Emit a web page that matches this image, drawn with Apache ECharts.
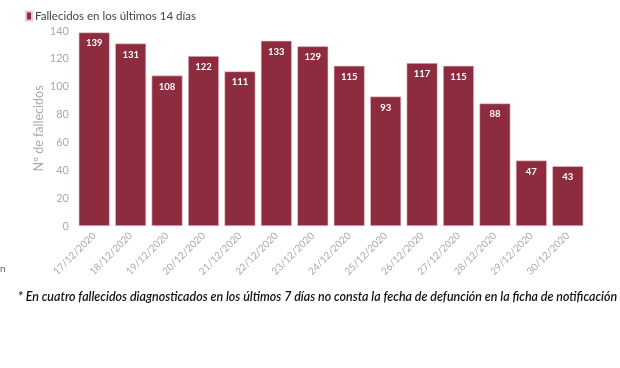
<!DOCTYPE html>
<html>
<head>
<meta charset="utf-8">
<script src="https://cdn.jsdelivr.net/npm/echarts@6/dist/echarts.min.js"></script>
<style>html,body{margin:0;padding:0;background:#fff}#c{width:620px;height:368px}</style>
</head>
<body>
<div id="c"></div>
<script>
const categories = ["17/12/2020","18/12/2020","19/12/2020","20/12/2020","21/12/2020","22/12/2020","23/12/2020","24/12/2020","25/12/2020","26/12/2020","27/12/2020","28/12/2020","29/12/2020","30/12/2020"];
const fallecidos = [139,131,108,122,111,133,129,115,93,117,115,88,47,43];
const yTicks = [0,20,40,60,80,100,120,140];
const seriesName = "Fallecidos en los últimos 14 días";
const yAxisName = "Nº de fallecidos";
const footnote = "* En cuatro fallecidos diagnosticados en los últimos 7 días no consta la fecha de defunción en la ficha de notificación";

const chart = echarts.init(document.getElementById('c'), null, {renderer:'canvas'});
chart.setOption({
  animation:false,
  textStyle:{fontFamily:'Lato'},
  legend:{
    left:20, top:5, itemWidth:6, itemHeight:9, itemGap:3,
    icon:'rect',
    textStyle:{color:'#444', fontSize:11.5, fontFamily:'Lato', padding:[0,0,0,-2]},
    data:[seriesName]
  },
  grid:{left:76, right:34, top:31, bottom:142, containLabel:false},
  xAxis:{
    type:'category', data:categories,
    axisLine:{show:false}, axisTick:{show:false},
    axisLabel:{rotate:45, color:'#aaa', fontSize:10, margin:8, interval:0}
  },
  yAxis:{
    type:'value', min:yTicks[0], max:yTicks[yTicks.length-1], interval:20,
    name:yAxisName, nameLocation:'middle', nameGap:31, nameRotate:90, nameMoveOverlap:false,
    nameTextStyle:{color:'#aaa', fontSize:12.5},
    splitLine:{show:false}, axisLine:{show:false}, axisTick:{show:false},
    axisLabel:{color:'#aaa', fontSize:11, margin:7}
  },
  series:[{
    name:seriesName, type:'bar', data:fallecidos,
    barCategoryGap:'15%',
    itemStyle:{color:'#8d2c3f', borderColor:'#e9c9ce', borderWidth:0.6},
    label:{show:true, position:'insideTop', distance:6, color:'#fff', fontSize:9.5, fontWeight:'bold'}
  }],
  graphic:[
    {type:'text', left:18, top:291, style:{text:footnote, fill:'#111', font:'italic 600 12.45px Lato'}},
    {type:'text', left:0, top:264, style:{text:'n', fill:'#666', font:'10px Lato'}}
  ]
});
</script>
</body>
</html>
